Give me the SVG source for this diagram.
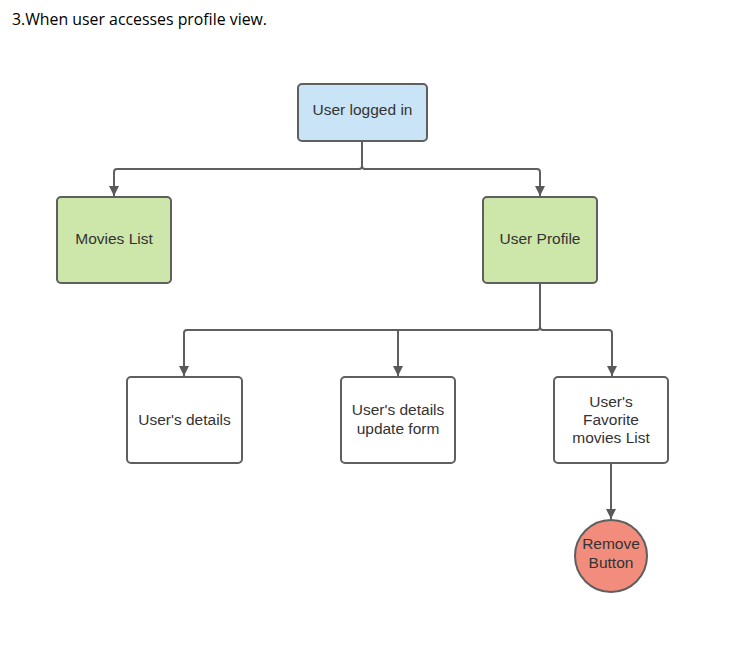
<svg xmlns="http://www.w3.org/2000/svg" width="732" height="646" viewBox="0 0 732 646">
<defs>
<marker id="arr" markerWidth="10" markerHeight="12" refX="10" refY="5" orient="auto" markerUnits="userSpaceOnUse">
<path d="M0,0 L10,5 L0,10 Z" fill="#595959"/>
</marker>
</defs>
<style>
.box{stroke:#5f5f5f;stroke-width:2;}
.lbl{font-family:"Liberation Sans",Arial,sans-serif;font-size:15.5px;fill:#333;text-anchor:middle;}
.con{fill:none;stroke:#5f5f5f;stroke-width:2;}
</style>
<rect width="732" height="646" fill="#fff"/>
<text x="12" y="25" font-family="Open Sans, Liberation Sans, sans-serif" font-size="16.5" fill="#000" textLength="255" lengthAdjust="spacingAndGlyphs">3.When user accesses profile view.</text>
<g id="connectors">
<path class="con" d="M362,141 V166 Q362,169 359,169 H117 Q114,169 114,172 V196" marker-end="url(#arr)"/>
<path class="con" d="M362,166 Q362,169 365,169 H537 Q540,169 540,172 V196" marker-end="url(#arr)"/>
<path class="con" d="M540,283 V327 Q540,330 537,330 H187 Q184,330 184,333 V376" marker-end="url(#arr)"/>
<path class="con" d="M540,327 Q540,330 543,330 H609 Q612,330 612,333 V376" marker-end="url(#arr)"/>
<path class="con" d="M398,330 V376" marker-end="url(#arr)"/>
<path class="con" d="M611,463 V519" marker-end="url(#arr)"/>
</g>
<g id="user-logged-in">
<rect class="box" x="298" y="84" width="129" height="57" rx="4" fill="#cae4f7"/>
<text class="lbl" x="362.5" y="115">User logged in</text>
</g>
<g id="movies-list">
<rect class="box" x="57" y="197" width="114" height="86" rx="4" fill="#cde6aa"/>
<text class="lbl" x="114" y="244">Movies List</text>
</g>
<g id="user-profile">
<rect class="box" x="483" y="197" width="114" height="86" rx="4" fill="#cde6aa"/>
<text class="lbl" x="540" y="244">User Profile</text>
</g>
<g id="users-details">
<rect class="box" x="127" y="377" width="115" height="86" rx="4" fill="#fff"/>
<text class="lbl" x="184.5" y="425">User's details</text>
</g>
<g id="users-details-update-form">
<rect class="box" x="341" y="377" width="114" height="86" rx="4" fill="#fff"/>
<text class="lbl" x="398" y="415">User's details</text>
<text class="lbl" x="398" y="434">update form</text>
</g>
<g id="users-favorite-movies-list">
<rect class="box" x="554" y="377" width="114" height="86" rx="4" fill="#fff"/>
<text class="lbl" x="611" y="407">User's</text>
<text class="lbl" x="611" y="425">Favorite</text>
<text class="lbl" x="611" y="443">movies List</text>
</g>
<g id="remove-button">
<circle class="box" cx="611" cy="556" r="36" fill="#f28c7d"/>
<text class="lbl" x="611" y="549">Remove</text>
<text class="lbl" x="611" y="568">Button</text>
</g>
</svg>
